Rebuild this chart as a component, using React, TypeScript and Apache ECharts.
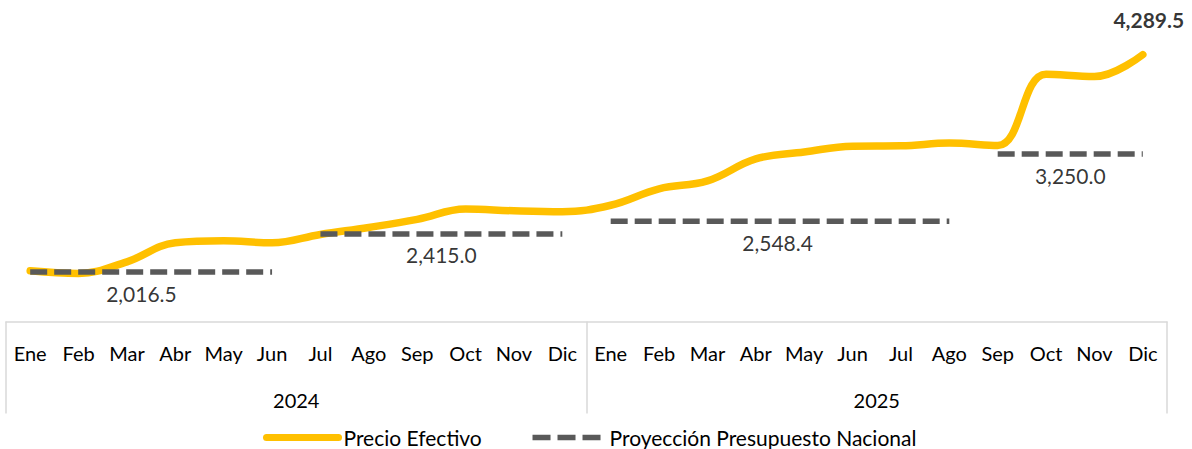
import React, { useEffect, useRef } from "react";
import * as echarts from "echarts";

const months = ["Ene", "Feb", "Mar", "Abr", "May", "Jun", "Jul", "Ago", "Sep", "Oct", "Nov", "Dic"];
const years = ["2024", "2025"];
const categories = [...months, ...months];

const precioEfectivo = [
  2030, 2003, 2124, 2323, 2344, 2323, 2410, 2483, 2567, 2675, 2657, 2648,
  2715, 2887, 2970, 3200, 3272, 3333, 3336, 3365, 3340, 4085, 4060, 4289.5,
];

const proyeccionValues = [2016.5, 2415.0, 2548.4, 3250.0];
const proyeccionStart = [0, 6, 12, 20];
const proyeccionEnd = [5, 11, 19, 23];
const proyeccionLabelAt = [2.3, 8.5, 15.45, 21.5];

const NAME_PRECIO = "Precio Efectivo";
const NAME_PROY = "Proyección Presupuesto Nacional";
const FONT = "Lato";
const YELLOW = "#FFC000";
const GRAY = "#595959";

const fmt = (v: number) =>
  v.toLocaleString("en-US", { minimumFractionDigits: 1, maximumFractionDigits: 1 });

export default function App() {
  const ref = useRef<HTMLDivElement>(null);

  useEffect(() => {
    if (!ref.current) return;
    const chart = echarts.init(ref.current, undefined, { renderer: "svg" });

    const dashedSeries = proyeccionValues.map((val, k) => ({
      type: "line",
      name: NAME_PROY,
      xAxisIndex: 0,
      yAxisIndex: 0,
      symbol: "none",
      z: 5,
      data: categories.map((_, i) =>
        i >= proyeccionStart[k] && i <= proyeccionEnd[k] ? val : null
      ),
      lineStyle: { color: GRAY, width: 5.5, type: [17, 7], cap: "butt" },
      itemStyle: { color: GRAY },
    }));

    const lastIdx = precioEfectivo.length - 1;

    const option: any = {
      animation: false,
      backgroundColor: "#ffffff",
      grid: { left: 6, right: 25, top: 34.5, bottom: 127.5, outerBoundsMode: "none" },
      legend: {
        data: [
          { name: NAME_PRECIO, lineStyle: { color: YELLOW, width: 7, cap: "round", type: "solid" } },
          { name: NAME_PROY, lineStyle: { color: GRAY, width: 5.5, cap: "butt", type: [18, 7] } },
        ],
        left: 258,
        top: 422,
        itemWidth: 72,
        itemHeight: 14,
        itemGap: 48,
        itemStyle: { color: "rgba(0,0,0,0)", borderWidth: 0, opacity: 0 },
        textStyle: { fontFamily: FONT, fontSize: 21, color: "#000" },
      },
      xAxis: [
        {
          type: "category",
          data: categories,
          position: "bottom",
          boundaryGap: true,
          axisLine: { show: true, onZero: false, lineStyle: { color: "#d9d9d9", width: 1.5 } },
          axisTick: { show: false },
          axisLabel: { interval: 0, margin: 21, fontFamily: FONT, fontSize: 20, color: "#000" },
          splitLine: { show: false },
        },
        { type: "value", min: -0.5, max: 23.5, show: false, position: "top" },
        {
          type: "category",
          data: years,
          position: "bottom",
          boundaryGap: true,
          axisLine: { show: false, onZero: false },
          axisTick: { show: true, length: 92, lineStyle: { color: "#d9d9d9", width: 1.5 } },
          axisLabel: { margin: 68, fontFamily: FONT, fontSize: 20, color: "#000" },
          splitLine: { show: false },
        },
      ],
      yAxis: { type: "value", min: 1500, max: 4500, show: false },
      series: [
        {
          type: "line",
          name: NAME_PRECIO,
          xAxisIndex: 0,
          yAxisIndex: 0,
          data: precioEfectivo,
          smooth: 0.4,
          symbol: "none",
          z: 3,
          lineStyle: { color: YELLOW, width: 7.5, cap: "round", join: "round" },
          itemStyle: { color: YELLOW },
        },
        ...dashedSeries,
        {
          type: "scatter",
          name: "etiquetas",
          xAxisIndex: 1,
          yAxisIndex: 0,
          symbolSize: 1,
          itemStyle: { color: "rgba(0,0,0,0)" },
          silent: true,
          z: 10,
          data: proyeccionValues.map((v, k) => [proyeccionLabelAt[k], v]),
          label: {
            show: true,
            position: "bottom",
            distance: 10,
            fontFamily: FONT,
            fontSize: 21,
            color: "#000",
            formatter: (p: any) => fmt(p.value[1]),
          },
        },
        {
          type: "scatter",
          name: "ultimo",
          xAxisIndex: 1,
          yAxisIndex: 0,
          symbolSize: 1,
          itemStyle: { color: "rgba(0,0,0,0)" },
          silent: true,
          z: 10,
          data: [[lastIdx, precioEfectivo[lastIdx]]],
          label: {
            show: true,
            position: "top",
            distance: 24,
            offset: [6, 0],
            fontFamily: FONT,
            fontSize: 21,
            fontWeight: "bold",
            color: "#000",
            formatter: (p: any) => fmt(p.value[1]),
          },
        },
      ],
    };

    chart.setOption(option);
    return () => chart.dispose();
  }, []);

  return (
    <div
      ref={ref}
      style={{ position: "absolute", left: 0, top: 0, width: 1192, height: 449, background: "#fff" }}
    />
  );
}
